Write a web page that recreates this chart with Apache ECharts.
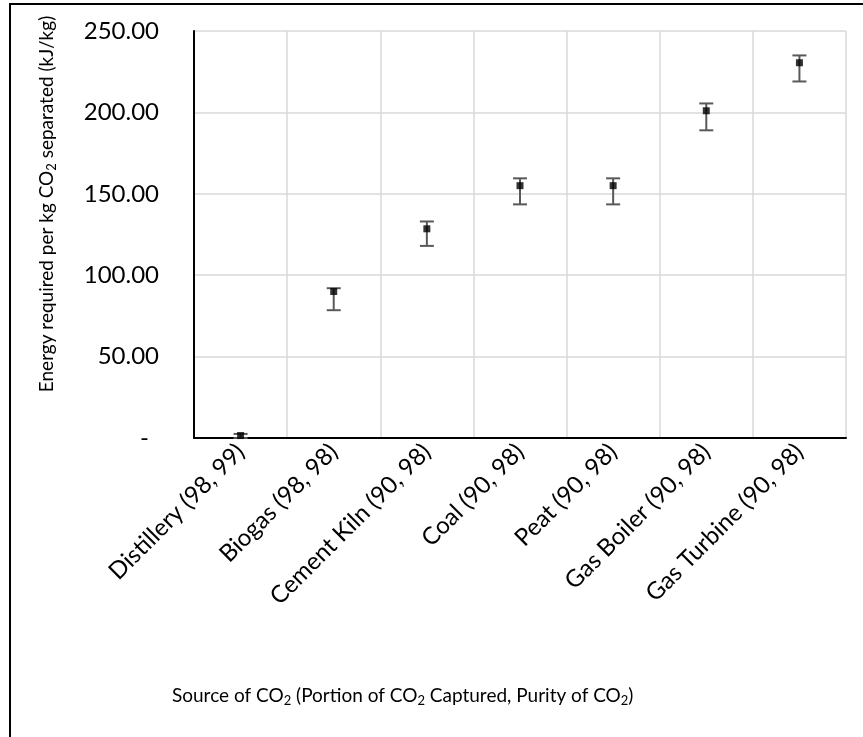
<!DOCTYPE html>
<html>
<head>
<meta charset="utf-8">
<script src="https://cdn.jsdelivr.net/npm/echarts@6/dist/echarts.min.js"></script>
<style>html,body{margin:0;padding:0;background:#fff;}#c{width:863px;height:737px;}</style>
</head>
<body>
<div id="c"></div>
<script>
const categories = ['Distillery (98, 99)', 'Biogas (98, 98)', 'Cement Kiln (90, 98)', 'Coal (90, 98)', 'Peat (90, 98)', 'Gas Boiler (90, 98)', 'Gas Turbine (90, 98)'];
const values = [1.5, 90, 128.5, 155, 155, 201, 230.5];
const errLow = [0, 78.5, 118, 143.5, 143.5, 189, 219];
const errHigh = [2.5, 92, 133, 159.5, 159.5, 205.5, 235];
const yTicks = [0, 50, 100, 150, 200, 250];

const FONT = 'Lato';
const chart = echarts.init(document.getElementById('c'), null, {renderer: 'canvas'});
const errData = categories.map((c, i) => [i, errLow[i], errHigh[i]]);

chart.setOption({
  animation: false,
  backgroundColor: '#fff',
  grid: {left: 194, right: 17, top: 31, bottom: 299, containLabel: false},
  xAxis: {
    type: 'category',
    data: categories,
    boundaryGap: true,
    axisLine: {show: true, lineStyle: {color: '#000', width: 2}},
    axisTick: {show: false},
    splitLine: {show: true, lineStyle: {color: '#d9d9d9', width: 1.5}},
    axisLabel: {rotate: 45, interval: 0, margin: 10, fontFamily: FONT, fontSize: 24, color: '#000'}
  },
  yAxis: {
    type: 'value',
    min: yTicks[0], max: yTicks[yTicks.length - 1], interval: 50,
    axisLine: {show: true, lineStyle: {color: '#000', width: 2}},
    axisTick: {show: false},
    splitLine: {show: true, lineStyle: {color: '#d9d9d9', width: 1.5}},
    axisLabel: {
      margin: 35, fontFamily: FONT, fontSize: 24, color: '#000',
      formatter: v => v === 0 ? '{d|-}' : v.toFixed(2),
      rich: {d: {fontFamily: FONT, fontSize: 24, color: '#000', padding: [0, 10, 0, 0]}}
    }
  },
  title: {
    left: 167, top: 679,
    text: 'Source of CO{s|2} (Portion of CO{s|2} Captured, Purity of CO{s|2})',
    textStyle: {
      fontFamily: FONT, fontSize: 19, fontWeight: 'normal', color: '#000',
      rich: {s: {fontFamily: FONT, fontSize: 13, color: '#000', verticalAlign: 'bottom', padding: [10, 0, 0, 0]}}
    }
  },
  graphic: [
    {type: 'rect', shape: {x: 10, y: 4, width: 900, height: 800}, style: {fill: 'none', stroke: '#000', lineWidth: 2}, silent: true, z: 100},
    {
      type: 'text', x: 47, y: 204, rotation: Math.PI / 2,
      style: {
        text: 'Energy required per kg CO{s|2} separated (kJ/kg)',
        fontFamily: FONT, fontSize: 19, fill: '#000', align: 'center', verticalAlign: 'middle',
        rich: {s: {fontFamily: FONT, fontSize: 13, fill: '#000', padding: [10, 0, 0, 0]}}
      }
    }
  ],
  series: [
    {
      type: 'custom',
      data: errData,
      z: 3,
      renderItem: function (params, api) {
        const x = api.value(0);
        const lo = api.coord([x, api.value(1)]);
        const hi = api.coord([x, api.value(2)]);
        const w = 7;
        const st = {stroke: '#595959', lineWidth: 2};
        return {
          type: 'group',
          children: [
            {type: 'line', shape: {x1: lo[0], y1: lo[1], x2: hi[0], y2: hi[1]}, style: st},
            {type: 'line', shape: {x1: lo[0] - w, y1: lo[1], x2: lo[0] + w, y2: lo[1]}, style: st},
            {type: 'line', shape: {x1: hi[0] - w, y1: hi[1], x2: hi[0] + w, y2: hi[1]}, style: st}
          ]
        };
      }
    },
    {
      type: 'scatter',
      data: values,
      symbol: 'rect',
      symbolSize: 7,
      itemStyle: {color: '#000'},
      z: 5
    }
  ]
});
</script>
</body>
</html>
